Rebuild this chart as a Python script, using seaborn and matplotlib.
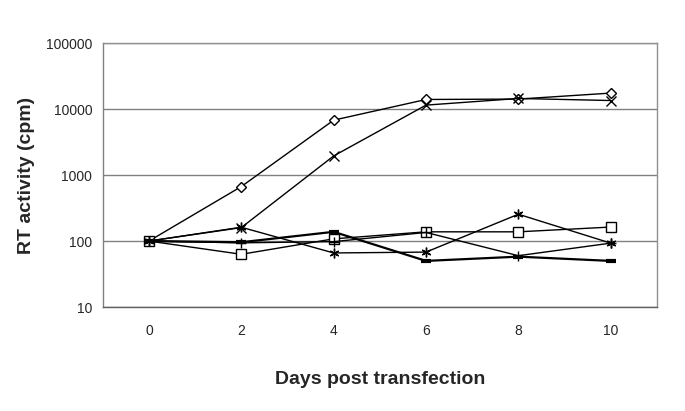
import matplotlib
matplotlib.use("Agg")
import matplotlib.pyplot as plt
import matplotlib.ticker as mticker
import seaborn as sns
import pandas as pd

days = [0, 2, 4, 6, 8, 10]
diamond = [100, 670, 6800, 14000, 14200, 17500]
cross = [100, 160, 1950, 11500, 14500, 13500]
square = [100, 63, 108, 138, 138, 163]
star = [100, 162, 66, 68, 255, 93]
plus = [100, 94, 98, 135, 60, 93]
bar = [100, 96, 138, 50, 58, 50]

series = {"diamond": diamond, "cross": cross, "square": square,
          "star": star, "plus": plus, "bar": bar}
markers = {"diamond": "D", "cross": "x", "square": "s",
           "star": (6, 2, 0), "plus": "+", "bar": "_"}

rows = []
for name, vals in series.items():
    for d, v in zip(days, vals):
        rows.append({"day": d, "value": v, "series": name})
df = pd.DataFrame(rows)

sns.set_style("white")
plt.rcParams['font.family'] = ['Liberation Sans', 'DejaVu Sans']

fig = plt.figure(figsize=(6.85, 4.11), dpi=100)
ax = fig.add_axes([0.150, 0.253, 0.809, 0.642])

for name in series:
    sub = df[df["series"] == name]
    m = markers[name]
    lw = 1.6 if name == "bar" else 1.0
    sns.lineplot(data=sub, x="day", y="value", ax=ax, color="black",
                 linewidth=lw, marker=m, markersize=7 if name != "diamond" else 5.5,
                 markerfacecolor="white" if name in ("diamond", "square") else "black",
                 markeredgecolor="black", markeredgewidth=1.0 if name != "bar" else 3.0,
                 legend=False)

ax.set_yscale("log")
ax.set_ylim(10, 100000)
ax.set_xlim(-1, 11)
ax.set_xticks(days)
ax.set_xticks([-1, 1, 3, 5, 7, 9, 11], minor=True)
ax.tick_params(axis="x", which="major", length=0, labelsize=10, pad=12)
ax.tick_params(axis="x", which="minor", length=4, color="#808080", direction="out")
ax.yaxis.set_major_locator(mticker.LogLocator(base=10))
ax.yaxis.set_major_formatter(mticker.FuncFormatter(lambda v, p: f"{int(round(v))}"))
ax.yaxis.set_minor_locator(mticker.LogLocator(base=10, subs=range(2, 10)))
ax.yaxis.set_minor_formatter(mticker.NullFormatter())
ax.tick_params(axis="y", which="major", length=4, color="#808080", direction="out", labelsize=10)
ax.tick_params(axis="y", which="minor", length=2.5, color="#808080", direction="in")

ax.grid(axis="y", which="major", color="#808080", linewidth=1.0)
ax.set_axisbelow(True)
for s in ax.spines.values():
    s.set_color("#909090")
    s.set_linewidth(1.0)
ax.spines["left"].set_color("#808080")
ax.spines["bottom"].set_color("#606060")

ax.set_xlabel("Days post transfection", fontsize=14, fontweight="bold", labelpad=24)
ax.set_ylabel("RT activity (cpm)", fontsize=14, fontweight="bold", labelpad=8)

fig.savefig("out.png", dpi=100)
